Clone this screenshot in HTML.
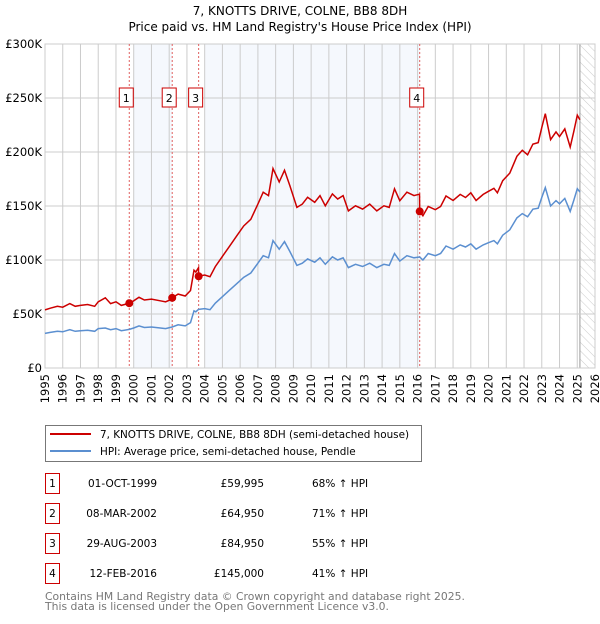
<!DOCTYPE html>
<html><head><meta charset="utf-8"><style>
body{margin:0;background:#fff;font-family:"DejaVu Sans","Liberation Sans",sans-serif;}
svg text{font-family:"DejaVu Sans","Liberation Sans",sans-serif;}
</style></head><body>
<svg id="chart" width="600" height="620" xmlns="http://www.w3.org/2000/svg">
<defs><pattern id="hatch" width="6" height="6" patternUnits="userSpaceOnUse" patternTransform="rotate(-45)"><line x1="0" y1="0" x2="0" y2="6" stroke="#ccc" stroke-width="1"/></pattern></defs>
<text x="300" y="15" text-anchor="middle" font-size="12">7, KNOTTS DRIVE, COLNE, BB8 8DH</text>
<text x="300" y="31" text-anchor="middle" font-size="12">Price paid vs. HM Land Registry's House Price Index (HPI)</text>
<g id="plot"></g>
<g>
<rect x="45.5" y="425.5" width="376" height="36" fill="#fff" stroke="#777"/>
<line x1="50" y1="434" x2="91" y2="434" stroke="#cc0000" stroke-width="2"/>
<text x="100" y="438" font-size="10.4">7, KNOTTS DRIVE, COLNE, BB8 8DH (semi-detached house)</text>
<line x1="50" y1="451" x2="91" y2="451" stroke="#5b8fd0" stroke-width="2"/>
<text x="100" y="455" font-size="10.4">HPI: Average price, semi-detached house, Pendle</text>
</g>
<g id="table"></g>
<text x="45" y="600" font-size="10.8" fill="#777">Contains HM Land Registry data © Crown copyright and database right 2025.</text>
<text x="45" y="610" font-size="10.8" fill="#777">This data is licensed under the Open Government Licence v3.0.</text>
</svg>
<script>
const years=[1995.0,1995.3,1995.7,1996.0,1996.4,1996.7,1997.0,1997.4,1997.8,1998.0,1998.4,1998.7,1999.0,1999.3,1999.75,2000.0,2000.3,2000.6,2001.0,2001.5,2001.8,2002.16,2002.17,2002.5,2002.9,2003.2,2003.4,2003.5,2003.65,2003.66,2004.0,2004.3,2004.6,2005.0,2005.4,2005.8,2006.2,2006.6,2007.0,2007.3,2007.6,2007.85,2008.2,2008.5,2008.8,2009.2,2009.5,2009.8,2010.2,2010.5,2010.8,2011.2,2011.5,2011.8,2012.1,2012.5,2012.9,2013.3,2013.7,2014.1,2014.4,2014.7,2015.0,2015.4,2015.8,2016.11,2016.12,2016.3,2016.6,2017.0,2017.3,2017.6,2018.0,2018.4,2018.7,2019.0,2019.3,2019.7,2020.0,2020.3,2020.5,2020.8,2021.2,2021.6,2021.9,2022.2,2022.5,2022.8,2023.0,2023.2,2023.5,2023.8,2024.0,2024.3,2024.6,2024.8,2025.0,2025.15];
const hpiValues=[32,33,34,33.5,35.5,34,34.5,35,34,36.5,37,35.5,36.5,34.5,35.7,37,39,37.5,38,37,36.5,38,38,40,39,42,53,52,54.3,54.3,55,54,60,66,72,78,84,88,97,104,102,118,110,117,108,95,97,101,98,102,96,103,100,102,93,96,94,97,93,96,95,106,99,104,102,102.8,102.8,100,106,104,106,113,110,114,112,115,110,114,116,118,115,123,128,139,143,140,147,148,158,167,150,155,152,157,145,155,166,163];
const priceValues=[53.8,55.4,57.1,56.3,59.6,57.1,58.0,58.8,57.1,61.3,65.0,59.6,61.3,58.0,60.0,62.2,65.5,63.0,63.8,62.2,61.3,63.8,65.0,68.4,66.7,71.8,90.6,88.9,92.9,85.0,86.1,84.5,93.9,103.3,112.7,122.1,131.5,137.7,151.8,162.8,159.6,184.7,172.2,183.1,169.0,148.7,151.8,158.1,153.4,159.6,150.2,161.2,156.5,159.6,145.5,150.2,147.1,151.8,145.5,150.2,148.7,165.9,154.9,162.8,159.6,160.9,145.0,141,149.5,146.6,149.5,159.3,155.1,160.7,157.9,162.2,155.1,160.7,163.6,166.4,162.2,173.4,180.5,196.0,201.6,197.4,207.3,208.7,222.8,235.5,211.5,218.6,214.3,221.4,204.5,218.6,234.1,229.8];
const saleYears=[1999.75,2002.17,2003.66,2016.12];
const salePrices=[59.995,64.95,84.95,145];
const saleLabels=["1","2","3","4"];
const saleDates=["01-OCT-1999","08-MAR-2002","29-AUG-2003","12-FEB-2016"];
const salePriceText=["£59,995","£64,950","£84,950","£145,000"];
const saleHpiText=["68% ↑ HPI","71% ↑ HPI","55% ↑ HPI","41% ↑ HPI"];
const yTicks=[0,50,100,150,200,250,300];
const yTickLabels=["£0","£50K","£100K","£150K","£200K","£250K","£300K"];
const xTicks=[1995,1996,1997,1998,1999,2000,2001,2002,2003,2004,2005,2006,2007,2008,2009,2010,2011,2012,2013,2014,2015,2016,2017,2018,2019,2020,2021,2022,2023,2024,2025,2026];
const shadedBands=[[2000,2002.17],[2004,2016.12]];
const forecastStart=2025.15;

const NS="http://www.w3.org/2000/svg";
const X0=45,X1=595,Y0=368,Y1=44;
const xs=y=>X0+(y-1995)/(2026-1995)*(X1-X0);
const ys=v=>Y0-v/300*(Y0-Y1);
function mk(t,a,p){const e=document.createElementNS(NS,t);for(const k in a)e.setAttribute(k,a[k]);p.appendChild(e);return e;}
const plot=document.getElementById('plot');
shadedBands.forEach(b=>{const r=mk('rect',{x:xs(b[0]),y:Y1,width:xs(b[1])-xs(b[0]),height:Y0-Y1,fill:'#eef3fc',opacity:0.6},plot);

});
const hr=mk('rect',{x:xs(forecastStart),y:Y1,width:X1-xs(forecastStart),height:Y0-Y1,fill:'url(#hatch)'},plot);


mk('line',{x1:xs(forecastStart),y1:Y1,x2:xs(forecastStart),y2:Y0,stroke:'#999','stroke-width':1},plot);
xTicks.forEach((t,i)=>{mk('line',{x1:xs(t),y1:Y1,x2:xs(t),y2:Y0,stroke:'#ccc','stroke-width':1},plot);
const tx=mk('text',{x:0,y:0,'font-size':11.5,'text-anchor':'end',transform:`translate(${xs(t)+4},${Y0+6}) rotate(-90)`},plot);tx.textContent=t;

});
yTicks.forEach((t,i)=>{mk('line',{x1:X0,y1:ys(t),x2:X1,y2:ys(t),stroke:'#ccc','stroke-width':1},plot);
const tx=mk('text',{x:X0-3,y:ys(t)+4,'font-size':11.5,'text-anchor':'end'},plot);tx.textContent=yTickLabels[i];

});
mk('rect',{x:X0,y:Y1,width:X1-X0,height:Y0-Y1,fill:'none',stroke:'#ccc'},plot);
saleYears.forEach((s,i)=>{mk('line',{x1:xs(s),y1:Y1,x2:xs(s),y2:Y0,stroke:'#e06060','stroke-width':1,'stroke-dasharray':'2,2'},plot);});
const pts=a=>a.map((v,i)=>xs(years[i]).toFixed(1)+','+ys(v).toFixed(1)).join(' ');
const hl=mk('polyline',{points:pts(hpiValues),fill:'none',stroke:'#5b8fd0','stroke-width':1.5},plot);


const pl=mk('polyline',{points:pts(priceValues),fill:'none',stroke:'#cc0000','stroke-width':1.5},plot);


saleYears.forEach((s,i)=>{const c=mk('circle',{cx:xs(s),cy:ys(salePrices[i]),r:4,fill:'#cc0000'},plot);


const g=mk('g',{},plot);


mk('rect',{x:xs(s)-10,y:88,width:14,height:19,fill:'#fff',stroke:'#cc0000'},g);
const t=mk('text',{x:xs(s)-3,y:102,'font-size':11,'text-anchor':'middle'},g);t.textContent=saleLabels[i];});
const tb=document.getElementById('table');
saleLabels.forEach((l,i)=>{const cy=483+i*30;const g=mk('g',{},tb);


mk('rect',{x:45.5,y:cy-9.5,width:14,height:20,fill:'#fff',stroke:'#cc0000'},g);
let t=mk('text',{x:52.5,y:cy+4,'font-size':10.5,'text-anchor':'middle'},g);t.textContent=l;
t=mk('text',{x:157,y:cy+4,'font-size':10.5,'text-anchor':'end'},g);t.textContent=saleDates[i];
t=mk('text',{x:264,y:cy+4,'font-size':10.5,'text-anchor':'end'},g);t.textContent=salePriceText[i];
t=mk('text',{x:312,y:cy+4,'font-size':10.5},g);t.textContent=saleHpiText[i];});
</script>
</body></html>
